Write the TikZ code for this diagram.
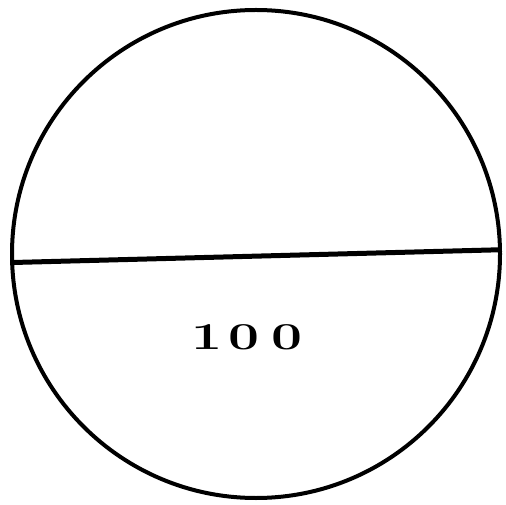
\documentclass[tikz,border=0pt]{standalone}
\usepackage{tikz}
\usetikzlibrary{positioning, calc}

\begin{document}
\begin{tikzpicture}[x=1pt, y=1pt,
    rim/.style={circle, draw, line width=4pt, minimum size=488pt, inner sep=0pt},
    chord/.style={line width=5pt},
    amount/.style={font=\bfseries\fontsize{38}{38}\selectfont, xscale=1.45, transform shape}]
                % Frame of the picture
                \useasboundingbox (0,0) rectangle (506,504);

                % The circle
                \node[rim] (disc) at (256,250) {};

                % Chord across the circle
                \draw[chord] (disc.182.8) -- (disc.1.7);

                % Value in the lower part
                \node[amount] (value) at (247,167) {1\kern4pt0\kern8pt0};
            \end{tikzpicture}
\end{document}
